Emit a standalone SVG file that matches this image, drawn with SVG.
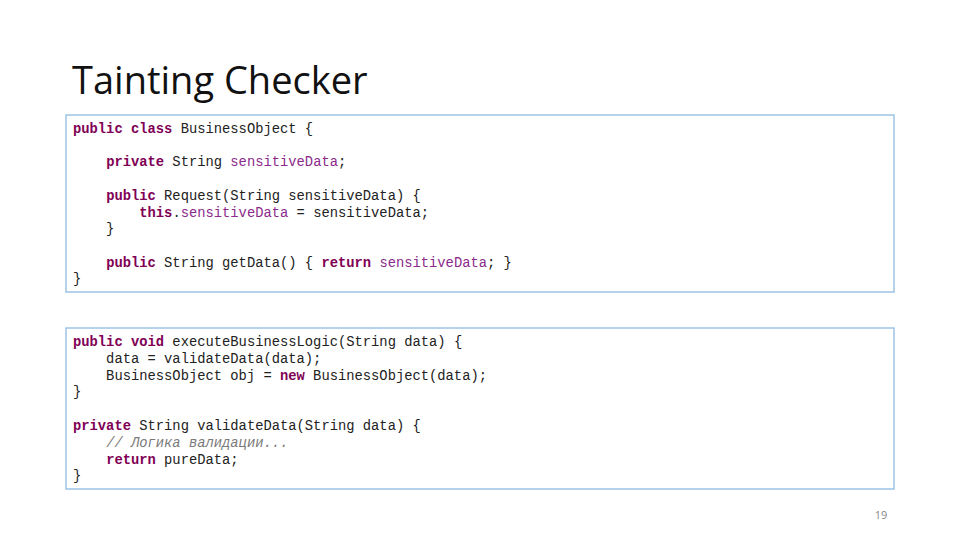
<svg xmlns="http://www.w3.org/2000/svg" width="960" height="540" viewBox="0 0 960 540">
<style>
.c{font-family:"Liberation Mono","Courier New",monospace;font-size:13.8px;fill:#222;white-space:pre}
.k{fill:#7f0055;font-weight:bold}
.f{fill:#8b2a8b}
.m{fill:#7a7a7a;font-style:italic}
.box{fill:#fff;stroke:#9dc3e6;stroke-width:1.5}
</style>
<rect width="960" height="540" fill="#fff"/>
<text x="72" y="94" font-family="'Open Sans','Liberation Sans',sans-serif" font-size="38" fill="#111">Tainting Checker</text>
<g id="class-box">
<rect class="box" x="66" y="115" width="828" height="177"/>
<text class="c" x="73" y="133"><tspan class="k">public</tspan> <tspan class="k">class</tspan> BusinessObject {</text>
<text class="c" x="73" y="166">    <tspan class="k">private</tspan> String <tspan class="f">sensitiveData</tspan>;</text>
<text class="c" x="73" y="200">    <tspan class="k">public</tspan> Request(String sensitiveData) {</text>
<text class="c" x="73" y="217">        <tspan class="k">this</tspan>.<tspan class="f">sensitiveData</tspan> = sensitiveData;</text>
<text class="c" x="73" y="233">    }</text>
<text class="c" x="73" y="267">    <tspan class="k">public</tspan> String getData() { <tspan class="k">return</tspan> <tspan class="f">sensitiveData</tspan>; }</text>
<text class="c" x="73" y="283">}</text>
</g>
<g id="logic-box">
<rect class="box" x="66" y="328" width="828" height="161"/>
<text class="c" x="73" y="346"><tspan class="k">public</tspan> <tspan class="k">void</tspan> executeBusinessLogic(String data) {</text>
<text class="c" x="73" y="363">    data = validateData(data);</text>
<text class="c" x="73" y="380">    BusinessObject obj = <tspan class="k">new</tspan> BusinessObject(data);</text>
<text class="c" x="73" y="396">}</text>
<text class="c" x="73" y="430"><tspan class="k">private</tspan> String validateData(String data) {</text>
<text class="c" x="73" y="447">    <tspan class="m">// Логика валидации...</tspan></text>
<text class="c" x="73" y="464">    <tspan class="k">return</tspan> pureData;</text>
<text class="c" x="73" y="480">}</text>
</g>
<g id="connectors"/>
<text x="881" y="519" text-anchor="middle" font-family="'Open Sans','Liberation Sans',sans-serif" font-size="11" fill="#888">19</text>
</svg>
